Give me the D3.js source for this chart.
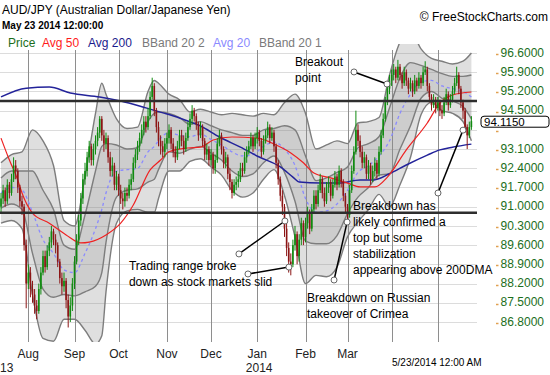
<!DOCTYPE html>
<html>
<head>
<meta charset="utf-8">
<script src="https://cdn.jsdelivr.net/npm/d3@7"></script>
<style>
  body { margin: 0; background: #fff; }
  svg { display: block; font-family: "Liberation Sans", Arial, sans-serif; }
</style>
</head>
<body>
<div id="chart"></div>
<script>
// daily AUD/JPY candles (open = previous close)
const firstOpen = 91.0;
const closes = [
  91.3,91.6,91.2,91.8,91.5,92.0,92.5,92.3,91.7,91.2,
  91.0,89.6,88.2,88.6,88.0,87.8,87.4,87.2,88.0,88.6,
  89.2,88.8,89.4,89.7,90.1,89.8,89.6,89.0,88.4,88.1,
  88.3,87.6,87.0,87.4,88.2,89.0,89.8,90.5,91.3,92.0,
  92.3,92.8,93.2,92.7,93.1,93.4,93.7,94.2,93.6,93.3,
  93.5,92.8,92.3,92.5,91.8,92.1,91.6,91.3,91.2,91.5,
  91.4,91.8,92.0,92.6,92.9,93.2,93.5,93.8,94.1,93.9,
  94.3,95.0,95.4,94.5,93.9,93.4,93.2,93.0,93.3,93.5,
  93.8,93.3,93.0,92.8,93.2,93.6,93.4,93.1,93.5,93.9,
  94.2,94.5,94.3,94.0,93.6,93.9,93.4,92.9,93.1,92.7,
  92.9,92.4,92.7,93.3,93.6,93.1,92.6,92.8,92.2,91.9,
  91.5,91.8,91.9,92.0,92.4,92.3,92.8,93.0,93.2,93.5,
  93.2,93.5,93.7,93.4,93.0,93.4,93.6,93.9,93.5,93.7,
  93.2,92.6,92.0,91.4,91.0,90.2,89.5,89.0,88.9,89.6,
  90.0,89.2,89.8,90.4,89.9,90.4,90.8,90.2,90.9,91.4,
  91.1,91.6,92.0,91.5,91.2,91.7,91.9,91.4,91.8,92.1,
  91.8,92.3,91.9,91.4,91.0,90.7,91.6,92.3,93.0,93.8,
  93.4,93.0,92.6,92.8,92.2,92.5,92.0,92.3,92.6,92.2,
  93.0,93.6,94.2,94.8,95.3,95.6,95.8,96.0,95.7,96.1,
  95.8,95.5,95.9,95.6,95.3,95.5,95.2,95.6,95.4,95.7,
  95.5,95.9,96.0,95.4,95.0,94.7,94.9,94.6,94.8,94.5,
  94.4,94.8,95.1,94.7,94.9,95.2,95.5,95.8,95.3,94.8,
  94.5,93.9,93.6,93.9,94.115
];
const highs = [
  91.5,91.8,91.7,92.0,91.9,92.2,92.8,92.7,92.4,91.8,
  91.4,91.1,89.8,88.9,88.8,88.3,88.0,87.6,88.2,88.8,
  89.4,89.4,89.6,89.9,90.3,90.2,90.0,89.7,89.1,88.6,
  88.6,88.4,87.8,87.7,88.4,89.2,90.0,90.7,91.5,92.2,
  92.6,93.0,93.4,93.3,93.3,93.6,93.9,94.3,94.3,93.8,
  93.7,93.6,93.0,92.8,92.6,92.3,92.2,91.8,91.5,91.7,
  91.7,92.0,92.2,92.8,93.1,93.4,93.7,94.0,94.3,94.3,
  94.6,95.2,95.7,95.5,94.6,94.1,93.6,93.4,93.5,93.7,
  94.0,93.9,93.5,93.2,93.4,93.8,93.8,93.6,93.7,94.1,
  94.4,94.7,94.6,94.4,94.1,94.1,94.0,93.5,93.3,93.2,
  93.1,93.0,92.9,93.5,93.8,93.7,93.2,93.0,92.9,92.4,
  92.0,92.0,92.1,92.3,92.6,92.6,93.0,93.2,93.4,93.7,
  93.6,93.7,93.9,93.8,93.5,93.6,93.8,94.1,94.0,93.9,
  93.8,93.3,92.7,92.1,91.6,91.1,90.4,89.7,89.3,89.8,
  90.3,90.1,90.0,90.6,90.5,90.6,91.0,90.9,91.1,91.6,
  91.6,91.8,92.2,92.1,91.7,91.9,92.1,92.0,92.0,92.3,
  92.2,92.5,92.4,92.0,91.5,91.1,91.8,92.5,93.2,94.5,
  94.0,93.6,93.2,93.0,92.9,92.7,92.6,92.5,92.8,92.7,
  93.2,93.8,94.4,95.0,95.5,95.8,96.0,96.2,96.1,96.35,
  96.2,95.9,96.1,96.0,95.7,95.7,95.6,95.8,95.7,95.9,
  95.8,96.1,96.3,96.1,95.5,95.1,95.1,95.0,95.0,94.9,
  94.7,95.0,95.3,95.2,95.1,95.4,95.7,96.1,95.9,95.4,
  94.9,94.6,94.0,94.1,94.3
];
const lows = [
  90.8,91.1,91.0,91.1,91.3,91.4,91.9,92.0,91.5,91.0,
  90.7,89.4,87.3,88.0,87.7,87.5,87.1,86.9,87.1,87.8,
  88.5,88.6,88.7,89.2,89.5,89.6,89.3,88.8,88.2,87.8,
  87.9,87.3,86.6,86.8,87.2,88.0,88.9,89.6,90.3,91.1,
  91.8,92.1,92.6,92.5,92.5,92.9,93.2,93.5,93.4,93.0,
  93.1,92.6,92.1,92.1,91.6,91.6,91.4,91.1,90.9,91.0,
  91.2,91.3,91.6,91.9,92.4,92.7,93.0,93.3,93.6,93.7,
  93.8,94.2,94.9,94.3,93.7,93.2,92.9,92.8,92.8,93.1,
  93.3,93.1,92.8,92.6,92.7,93.1,93.2,92.9,93.0,93.4,
  93.8,94.0,94.1,93.8,93.4,93.5,93.2,92.7,92.7,92.5,
  92.5,92.2,92.2,92.6,93.2,92.9,92.4,92.4,92.0,91.6,
  91.3,91.4,91.6,91.7,91.9,92.1,92.2,92.6,92.9,93.1,
  93.0,93.1,93.3,93.2,92.8,92.9,93.3,93.5,93.3,93.4,
  93.0,92.4,91.8,91.2,90.7,89.9,89.2,88.6,88.5,88.8,
  89.4,88.9,89.0,89.6,89.6,89.7,90.2,90.0,90.1,90.8,
  90.9,91.0,91.5,91.3,91.0,91.1,91.5,91.2,91.3,91.7,
  91.6,91.7,91.7,91.2,90.8,90.5,90.6,91.5,92.2,92.9,
  93.2,92.8,92.4,92.4,92.0,92.0,91.8,91.9,92.1,92.0,
  92.1,92.9,93.5,94.1,94.7,95.1,95.4,95.6,95.5,95.6,
  95.6,95.3,95.4,95.4,95.1,95.2,95.0,95.1,95.2,95.3,
  95.3,95.4,95.8,95.2,94.8,94.5,94.6,94.4,94.5,94.3,
  94.2,94.3,94.7,94.5,94.6,94.8,95.1,95.4,95.1,94.6,
  94.2,93.7,93.1,93.5,93.8
];

// 20-day average and its 2-sigma width, read at these bar numbers
const bandIdx = [0,5,10,15,20,25,30,35,40,45,48,50,55,60,65,70,73,75,80,85,
  90,95,100,105,110,115,120,125,130,135,140,145,150,155,160,165,170,175,180,185,
  190,195,200,205,210,215,220,224];
const avg20 = [91.5,91.7,91.6,90.8,89.8,89.3,88.7,88.6,89.3,90.2,90.9,91.5,92.3,92.35,92.4,93.0,93.2,93.4,93.7,93.6,
  93.55,93.65,93.45,93.25,93.0,92.85,92.9,93.2,93.35,93.1,92.5,91.3,90.8,90.85,91.1,91.6,92.25,92.5,92.85,93.4,
  94.4,95.1,95.55,95.6,95.4,95.3,95.2,95.0];
const sigma2 = [1.1,1.2,1.4,3.0,3.6,3.2,1.8,1.7,2.8,4.2,4.6,3.6,1.9,1.5,1.5,2.2,2.4,2.1,1.4,1.3,
  0.9,0.9,1.0,1.1,1.4,1.5,1.4,1.2,1.0,1.7,2.6,3.1,2.3,2.4,2.3,1.7,1.8,1.6,1.4,2.4,
  2.6,2.3,1.2,0.8,0.9,0.9,1.1,1.6];

const avg50Idx = [0,4,8,10,15,23,31,38,42,50,57,63,71,76,80,89,95,101,110,122,131,138,144,149,157,165,171,178,184,193,203,209,215,224];
const avg50 = [93.5,92.7,91.97,91.5,90.77,90.4,89.97,89.68,89.71,89.97,90.4,91.06,92.34,92.7,93.0,93.14,93.17,93.43,93.54,93.5,
  93.25,92.96,92.6,92.23,92.05,91.86,91.72,91.72,92.08,93.07,94.05,94.78,95.07,95.18];

const avg200Idx = [0,12,23,33,47,57,69,78,85,95,104,114,123,133,139,142,152,161,171,177,185,193,203,209,215,224];
const avg200 = [95.0,95.32,95.36,95.14,95.0,94.85,94.6,94.4,94.23,93.94,93.54,93.17,92.81,92.45,92.08,91.9,91.86,91.86,91.97,91.97,
  92.2,92.52,92.88,93.07,93.17,93.28];

const supportLevels = [94.85, 90.78];
const yTicks = [86.8,87.5,88.2,88.9,89.6,90.3,91.0,91.7,92.4,93.1,93.8,94.5,95.2,95.9,96.6];
const monthLabels = ["Aug","Sep","Oct","Nov","Dec","Jan","Feb","Mar","",""];
const lastPrice = 94.115;

const legendItems = [
  { text: "Price", color: "#1c6e1c" },
  { text: "Avg 50", color: "#ff1a1a" },
  { text: "Avg 200", color: "#1a1a8c" },
  { text: "BBand 20 2", color: "#7a7a7a" },
  { text: "Avg 20", color: "#8a8aff" },
  { text: "BBand 20 1", color: "#7a7a7a" },
];

// notes: text anchor and the two ends of each pointer, in (bar, price)
const notes = [
  { lines: ["Breakout", "point"], at: [140.0, 96.13], pointers: [[[168.1, 95.91], [183.8, 95.47]]] },
  { lines: ["Trading range broke", "down as stock markets slid"], at: [60.9, 88.69],
    pointers: [[[113.3, 89.28], [135.2, 90.48]], [[117.6, 88.55], [137.1, 88.80]]] },
  { lines: ["Breakdown on Russian", "takeover of Crimea"], at: [145.7, 87.53], pointers: [[[158.6, 88.33], [164.8, 90.44]]] },
  { lines: ["Breakdown has", "likely confirmed a", "top but some", "stabilization", "appearing above 200DMA"],
    at: [167.6, 90.88], pointers: [[[208.1, 91.50], [220.0, 93.79]]] },
];

const W = 550, H = 375;
const plotRight = 478, plotTop = 44, plotBottom = 342;

const svg = d3.select("#chart").append("svg").attr("width", W).attr("height", H);
svg.append("rect").attr("width", W).attr("height", H).attr("fill", "#fff");

const days = d3.timeDay
  .range(new Date(2013, 6, 15), new Date(2014, 4, 24))
  .filter((d) => d.getDay() !== 0 && d.getDay() !== 6);

const x = d3.scaleLinear().domain([0, days.length - 1]).range([1, 471.4]);
const y = d3.scaleLinear().domain([86.8, 96.6]).range([322, 53]);

const candles = closes.map((c, i) => ({
  i, open: i ? closes[i - 1] : firstOpen, close: c, high: highs[i], low: lows[i],
}));

const monthStarts = days
  .map((d, i) => ({ d, i }))
  .filter(({ d, i }) => i > 0 && d.getMonth() !== days[i - 1].getMonth());

// grid
svg.append("g").selectAll("line").data(yTicks).enter().append("line")
  .attr("x1", 0).attr("x2", plotRight - 1)
  .attr("y1", (d) => Math.round(y(d)) + 0.5).attr("y2", (d) => Math.round(y(d)) + 0.5)
  .attr("stroke", "#dcdcdc");

svg.append("g").selectAll("line").data(monthStarts).enter().append("line")
  .attr("x1", (d) => Math.round(x(d.i)) + 0.5).attr("x2", (d) => Math.round(x(d.i)) + 0.5)
  .attr("y1", 50).attr("y2", plotBottom)
  .attr("stroke", "#8e8e8e");

svg.append("clipPath").attr("id", "plot")
  .append("rect").attr("x", 0).attr("y", plotTop).attr("width", plotRight).attr("height", plotBottom - plotTop);

const g = svg.append("g").attr("clip-path", "url(#plot)");

const band = bandIdx.map((i, k) => ({ i, m: avg20[k], s: sigma2[k] }));
const curve = d3.curveMonotoneX;
const bandArea = (k) => d3.area().curve(curve).x((d) => x(d.i))
  .y0((d) => y(d.m - k * d.s)).y1((d) => y(d.m + k * d.s));
const bandLine = (k) => d3.line().curve(curve).x((d) => x(d.i)).y((d) => y(d.m + k * d.s));

g.append("path").datum(band).attr("d", bandArea(1)).attr("fill", "rgba(140,140,140,0.28)");
g.append("path").datum(band).attr("d", bandArea(0.5)).attr("fill", "rgba(140,140,140,0.22)");
[1, -1, 0.5, -0.5].forEach((k) => {
  g.append("path").datum(band).attr("d", bandLine(k))
    .attr("fill", "none").attr("stroke", "#7d7d7d").attr("stroke-width", 1.4);
});
g.append("path").datum(band).attr("d", bandLine(0))
  .attr("fill", "none").attr("stroke", "#8a8aff").attr("stroke-width", 1.3).attr("stroke-dasharray", "3,3");

const maLine = d3.line().curve(curve).x((d) => x(d[0])).y((d) => y(d[1]));
g.append("path").datum(avg200Idx.map((i, k) => [i, avg200[k]])).attr("d", maLine)
  .attr("fill", "none").attr("stroke", "#23239a").attr("stroke-width", 1.5);
g.append("path").datum(avg50Idx.map((i, k) => [i, avg50[k]])).attr("d", maLine)
  .attr("fill", "none").attr("stroke", "#ee2222").attr("stroke-width", 1.2);

// candles
const up = "#108a10", down = "#8c1616";
const c = g.append("g").selectAll("g").data(candles).enter().append("g");
c.append("line")
  .attr("x1", (d) => x(d.i)).attr("x2", (d) => x(d.i))
  .attr("y1", (d) => y(d.high)).attr("y2", (d) => y(d.low))
  .attr("stroke", (d) => (d.close >= d.open ? up : down)).attr("stroke-width", 1);
c.append("rect")
  .attr("x", (d) => x(d.i) - 0.8).attr("width", 1.6)
  .attr("y", (d) => y(Math.max(d.open, d.close)))
  .attr("height", (d) => Math.max(1, y(Math.min(d.open, d.close)) - y(Math.max(d.open, d.close))))
  .attr("fill", (d) => (d.close >= d.open ? up : down));

// support / resistance
svg.append("g").selectAll("line").data(supportLevels).enter().append("line")
  .attr("x1", 0).attr("x2", plotRight - 1)
  .attr("y1", (d) => y(d)).attr("y2", (d) => y(d))
  .attr("stroke", "#2e2e2e").attr("stroke-width", 2.5);

// notes
const ng = svg.append("g");
notes.forEach((n) => {
  n.pointers.forEach((p) => {
    ng.append("line")
      .attr("x1", x(p[0][0])).attr("y1", y(p[0][1]))
      .attr("x2", x(p[1][0])).attr("y2", y(p[1][1]))
      .attr("stroke", "#000").attr("stroke-width", 1.5);
    p.forEach((e) => {
      ng.append("circle").attr("cx", x(e[0])).attr("cy", y(e[1])).attr("r", 3)
        .attr("fill", "#fff").attr("stroke", "#666").attr("stroke-width", 1);
    });
  });
  const t = ng.append("text").attr("x", x(n.at[0])).attr("y", y(n.at[1]))
    .attr("font-size", 12).attr("fill", "#000");
  n.lines.forEach((l, k) => {
    t.append("tspan").attr("x", x(n.at[0])).attr("dy", k ? 16 : 0).text(l);
  });
});

// right axis: small orange ticks, green labels; the last-price box hides the label under it
svg.append("g").selectAll("line").data(yTicks).enter().append("line")
  .attr("x1", 496).attr("x2", 498.5)
  .attr("y1", (d) => Math.round(y(d)) + 1.5).attr("y2", (d) => Math.round(y(d)) + 1.5)
  .attr("stroke", "#e0a050").attr("stroke-width", 1.5);

svg.append("g").selectAll("text").data(yTicks.filter((d) => Math.abs(d - lastPrice) > 0.33)).enter().append("text")
  .attr("x", 544).attr("y", (d) => y(d) - 0.5).attr("dy", "0.35em")
  .attr("text-anchor", "end").attr("font-size", 12).attr("fill", "#1c6e1c")
  .text((d) => d.toFixed(4));

const box = svg.append("g").attr("transform", `translate(481,${y(lastPrice)})`);
box.append("rect").attr("x", 0).attr("y", -5).attr("width", 68).attr("height", 11)
  .attr("rx", 3).attr("fill", "#fff").attr("stroke", "#000");
box.append("text").attr("x", 3).attr("dy", "0.38em").attr("font-size", 11.5)
  .attr("fill", "#000").text(lastPrice.toFixed(4));

// month axis
svg.append("g").selectAll("text").data(monthStarts).enter().append("text")
  .attr("x", (d) => x(d.i)).attr("y", 358).attr("text-anchor", "middle")
  .attr("font-size", 12).attr("fill", "#222")
  .text((d, k) => monthLabels[k]);
svg.append("text").attr("x", 0).attr("y", 372).attr("font-size", 12).attr("fill", "#222").text("13");
svg.append("text").attr("x", x(monthStarts[5].i) + 2).attr("y", 372).attr("text-anchor", "middle")
  .attr("font-size", 12).attr("fill", "#222").text("2014");
svg.append("text").attr("x", 392).attr("y", 366).attr("font-size", 10).attr("fill", "#000")
  .text(d3.timeFormat("%-m/%-d/%Y 12:00 AM")(days[days.length - 1]));

// header
svg.append("text").attr("x", 2).attr("y", 14).attr("font-size", 12).attr("fill", "#000")
  .text("AUD/JPY (Australian Dollar/Japanese Yen)");
svg.append("text").attr("x", 2).attr("y", 29).attr("font-size", 10).attr("font-weight", "bold")
  .attr("fill", "#000").text("May 23 2014 12:00:00");
svg.append("text").attr("x", 548).attr("y", 21).attr("text-anchor", "end").attr("font-size", 12)
  .attr("fill", "#000").text("\u00a9 FreeStockCharts.com");

const legendX = [8, 42, 88, 142, 213, 259];
svg.append("g").selectAll("text").data(legendItems).enter().append("text")
  .attr("x", (d, k) => legendX[k]).attr("y", 47).attr("font-size", 12)
  .attr("fill", (d) => d.color).text((d) => d.text);
</script>
</body>
</html>
